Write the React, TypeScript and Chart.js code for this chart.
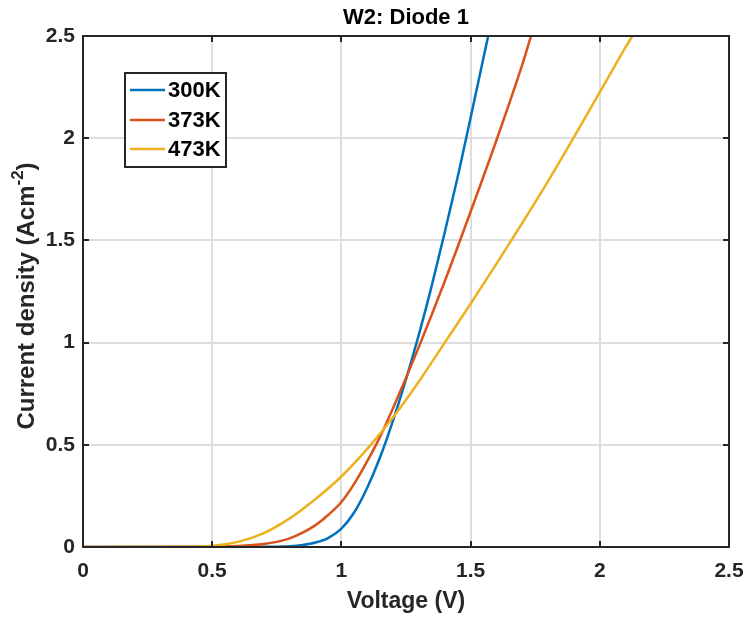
import React, { useEffect, useRef } from "react";
import { Chart, registerables } from "chart.js";

Chart.register(...registerables);

const chartTitle = "W2: Diode 1";
const xAxisTitle = "Voltage (V)";
const yAxisTitleMain = "Current density (Acm";
const yAxisTitleSup = "-2";
const yAxisTitleEnd = ")";
const seriesLabels = ["300K", "373K", "473K"];
const seriesColors = ["#0072BD", "#D95319", "#EDB120"];

const voltage300 = [0, 0.5, 0.7, 0.8, 0.85, 0.9, 0.95, 1.0, 1.05, 1.1, 1.15, 1.2, 1.25, 1.3, 1.35, 1.4, 1.45, 1.5, 1.568];
const current300 = [0, 0, 0.001, 0.004, 0.01, 0.022, 0.045, 0.09, 0.17, 0.29, 0.44, 0.62, 0.82, 1.04, 1.28, 1.54, 1.81, 2.1, 2.5];

const voltage373 = [0, 0.5, 0.6, 0.7, 0.75, 0.8, 0.85, 0.9, 0.95, 1.0, 1.05, 1.1, 1.15, 1.2, 1.3, 1.4, 1.5, 1.6, 1.7, 1.734];
const current373 = [0, 0.001, 0.005, 0.015, 0.025, 0.042, 0.07, 0.107, 0.158, 0.22, 0.31, 0.42, 0.54, 0.68, 0.98, 1.3, 1.64, 1.99, 2.36, 2.5];

const voltage473 = [0, 0.4, 0.5, 0.6, 0.7, 0.8, 0.9, 1.0, 1.1, 1.2, 1.3, 1.4, 1.5, 1.6, 1.7, 1.8, 1.9, 2.0, 2.1, 2.126];
const current473 = [0, 0.001, 0.006, 0.025, 0.068, 0.14, 0.235, 0.345, 0.48, 0.635, 0.81, 1.0, 1.19, 1.385, 1.585, 1.79, 2.005, 2.225, 2.445, 2.5];

const xTicks = [0, 0.5, 1, 1.5, 2, 2.5];
const yTicks = [0, 0.5, 1, 1.5, 2, 2.5];

const FONT = "'Liberation Sans', Arial, Helvetica, sans-serif";

function toPoints(xs: number[], ys: number[]) {
  return xs.map((x, i) => ({ x, y: ys[i] }));
}

const decorPlugin = {
  id: "decor",
  afterDraw(chart: any) {
    const ctx = chart.ctx as CanvasRenderingContext2D;
    const { left, right, top, bottom } = chart.chartArea;
    const xs = chart.scales.x;
    const ys = chart.scales.y;
    ctx.save();
    ctx.strokeStyle = "#262626";
    ctx.lineWidth = 2;
    ctx.strokeRect(left, top, right - left, bottom - top);
    const tl = 6;
    ctx.beginPath();
    xTicks.forEach((t) => {
      const px = Math.round(xs.getPixelForValue(t));
      ctx.moveTo(px, bottom);
      ctx.lineTo(px, bottom - tl);
      ctx.moveTo(px, top);
      ctx.lineTo(px, top + tl);
    });
    yTicks.forEach((t) => {
      const py = Math.round(ys.getPixelForValue(t));
      ctx.moveTo(left, py);
      ctx.lineTo(left + tl, py);
      ctx.moveTo(right, py);
      ctx.lineTo(right - tl, py);
    });
    ctx.stroke();

    const cx = (left + right) / 2;
    ctx.fillStyle = "#000";
    ctx.font = `bold 22px ${FONT}`;
    ctx.textAlign = "center";
    ctx.textBaseline = "middle";
    ctx.fillText(chartTitle, cx, 18);

    ctx.fillStyle = "#262626";
    ctx.font = `bold 23px ${FONT}`;
    ctx.fillText(xAxisTitle, cx, 602);

    const cy = 296;
    ctx.translate(27, cy);
    ctx.rotate(-Math.PI / 2);
    const mainFont = `bold 24px ${FONT}`;
    const supFont = `bold 17px ${FONT}`;
    ctx.font = mainFont;
    const w1 = ctx.measureText(yAxisTitleMain).width;
    const w3 = ctx.measureText(yAxisTitleEnd).width;
    ctx.font = supFont;
    const w2 = ctx.measureText(yAxisTitleSup).width;
    const total = w1 + w2 + w3;
    let x0 = -total / 2;
    ctx.textAlign = "left";
    ctx.font = mainFont;
    ctx.fillText(yAxisTitleMain, x0, 0);
    x0 += w1;
    ctx.font = supFont;
    ctx.fillText(yAxisTitleSup, x0, -9);
    x0 += w2;
    ctx.font = mainFont;
    ctx.fillText(yAxisTitleEnd, x0, 0);
    ctx.setTransform(1, 0, 0, 1, 0, 0);

    const bx = 125, by = 73, bw = 101, bh = 94;
    ctx.fillStyle = "#ffffff";
    ctx.fillRect(bx, by, bw, bh);
    ctx.strokeStyle = "#262626";
    ctx.lineWidth = 2;
    ctx.strokeRect(bx, by, bw, bh);
    const rowsY = [90, 120, 149];
    ctx.font = `bold 22px ${FONT}`;
    ctx.textBaseline = "middle";
    ctx.textAlign = "left";
    seriesLabels.forEach((lab, i) => {
      ctx.strokeStyle = seriesColors[i];
      ctx.lineWidth = 2.5;
      ctx.beginPath();
      ctx.moveTo(130, rowsY[i]);
      ctx.lineTo(165, rowsY[i]);
      ctx.stroke();
      ctx.fillStyle = "#000";
      ctx.fillText(lab, 168, rowsY[i] + 1);
    });
    ctx.restore();
  },
};

export default function App() {
  const ref = useRef<HTMLCanvasElement | null>(null);
  useEffect(() => {
    if (!ref.current) return;
    const mk = (i: number, xs: number[], ys: number[], order: number) => ({
      label: seriesLabels[i],
      data: toPoints(xs, ys),
      borderColor: seriesColors[i],
      borderWidth: 2.5,
      pointRadius: 0,
      cubicInterpolationMode: "monotone",
      order,
    });
    const chart = new Chart(ref.current, {
      type: "line",
      data: {
        datasets: [
          mk(0, voltage300, current300, 2),
          mk(1, voltage373, current373, 1),
          mk(2, voltage473, current473, 0),
        ],
      },
      options: {
        responsive: false,
        animation: false,
        devicePixelRatio: 1,
        layout: { padding: { left: 0, top: 36, right: 19, bottom: 0 } },
        plugins: {
          legend: { display: false },
          title: { display: false },
          tooltip: { enabled: false },
        },
        scales: {
          x: {
            type: "linear",
            min: 0,
            max: 2.5,
            afterBuildTicks: (s: any) => {
              s.ticks = xTicks.map((v) => ({ value: v }));
            },
            afterFit: (s: any) => {
              s.height = 72;
              s.paddingLeft = 0;
              s.paddingRight = 0;
            },
            grid: { color: "#dedede", lineWidth: 2, drawTicks: false },
            border: { display: false },
            ticks: {
              padding: 12,
              color: "#262626",
              font: { family: FONT, size: 21, weight: "bold" },
              maxRotation: 0,
              callback: (v: any) => String(v),
            },
          },
          y: {
            type: "linear",
            min: 0,
            max: 2.5,
            afterBuildTicks: (s: any) => {
              s.ticks = yTicks.map((v) => ({ value: v }));
            },
            afterFit: (s: any) => {
              s.width = 83;
              s.paddingTop = 0;
              s.paddingBottom = 0;
            },
            grid: { color: "#dedede", lineWidth: 2, drawTicks: false },
            border: { display: false },
            ticks: {
              padding: 8,
              color: "#262626",
              font: { family: FONT, size: 21, weight: "bold" },
              callback: (v: any) => String(v),
            },
          },
        },
      },
      plugins: [decorPlugin],
    } as any);
    return () => chart.destroy();
  }, []);
  return (
    <div style={{ position: "absolute", left: 0, top: 0, width: 748, height: 619, background: "#fff" }}>
      <canvas ref={ref} width={748} height={619} style={{ width: 748, height: 619, display: "block" }} />
    </div>
  );
}
